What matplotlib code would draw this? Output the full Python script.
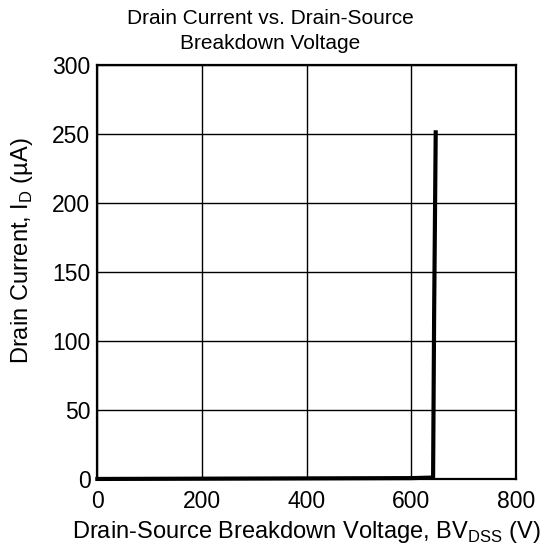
import matplotlib
matplotlib.use('Agg')
from matplotlib import pyplot as plt

plt.rcParams['font.family'] = ['Liberation Sans', 'DejaVu Sans']
plt.rcParams['mathtext.fontset'] = 'custom'
plt.rcParams['mathtext.rm'] = 'Liberation Sans'

# breakdown curve: current stays ~0 until breakdown, then rises sharply
voltage = [0, 300, 600, 642, 644, 647]
current = [0, 0.3, 0.6, 1.0, 120, 251]

xticks = [0, 200, 400, 600, 800]
yticks = [0, 50, 100, 150, 200, 250, 300]

fig = plt.figure(figsize=(5.44, 5.48), dpi=100)
ax = fig.add_axes([0.179, 0.126, 0.769, 0.756])

ax.plot(voltage, current, color='black', linewidth=3, solid_joinstyle='miter', clip_on=False, zorder=3)

ax.set_xlim(0, 800)
ax.set_ylim(0, 300)
ax.set_xticks(xticks)
ax.set_yticks(yticks)
ax.grid(True, color='black', linewidth=1)
ax.tick_params(length=0, labelsize=16.5)
ax.tick_params(axis='x', pad=8)
ax.tick_params(axis='y', pad=5)
for s in ax.spines.values():
    s.set_linewidth(1.6)
    s.set_color('black')

fig.text(0.497, 0.984, 'Drain Current vs. Drain-Source\nBreakdown Voltage', fontsize=15,
         ha='center', va='top', linespacing=1.4)
ax.set_xlabel('Drain-Source Breakdown Voltage, BV$_{\\mathrm{DSS}}$ (V)', fontsize=17, labelpad=4)
ax.set_ylabel('Drain Current, I$_{\\mathrm{D}}$ (\u00b5A)', fontsize=17)
ax.yaxis.set_label_coords(-0.148, 0.55)

fig.savefig('out.png', dpi=100)
